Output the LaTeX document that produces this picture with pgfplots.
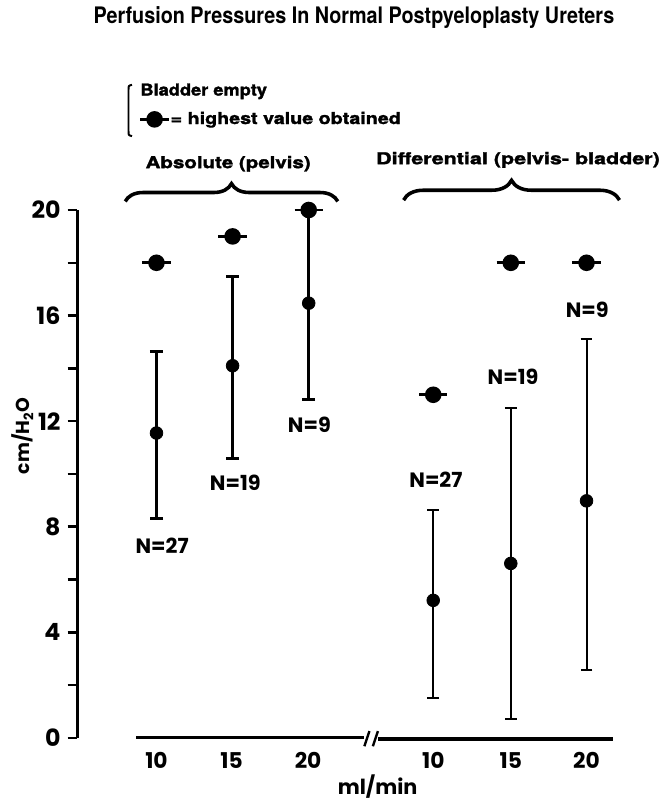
\documentclass[border=0pt]{standalone}
\usepackage{fontspec}
\setmainfont{TeX Gyre Heros}
\newfontfamily\heavy{TeX Gyre Heros}[BoldFeatures={FakeBold=1.6}]
\newfontfamily\pop{Poppins}
\usepackage{pgfplots}
\usepackage{pgfplotstable}
\pgfplotsset{compat=1.18}
\usetikzlibrary{decorations.pathreplacing}

% filled dot with a short bar through it = highest value obtained
\pgfdeclareplotmark{maxdot}{%
  \pgfpathcircle{\pgfpointorigin}{\pgfplotmarksize}%
  \pgfusepathqfill
  \pgfsetlinewidth{1.5pt}%
  \pgfpathmoveto{\pgfpoint{-1.7\pgfplotmarksize}{0pt}}%
  \pgfpathlineto{\pgfpoint{1.7\pgfplotmarksize}{0pt}}%
  \pgfusepathqstroke
}
\pgfplotsset{maxlegend/.style={legend image code/.code={\draw[##1] plot coordinates {(6.8pt,0pt)};}}}

% x: 1,2,3 = absolute 10/15/20 ml/min ; 4.636,5.655,6.65 = differential
\pgfplotstableread{
x      y      ep    em
1      11.55  3.08  3.25
2      14.10  3.39  3.52
3      16.47  3.53  3.65
}\absdata
\pgfplotstableread{
x      y      ep    em
4.636  5.21   3.43  3.71
5.655  6.61   5.90  5.90
6.65   8.98   6.15  6.40
}\diffdata
\pgfplotstableread{
x      y
1      18
2      19
3      20
4.636  13
5.655  18
6.65   18
}\maxdata

\newcommand\numfont{\pop\bfseries}
\newcommand\lblfont{\heavy\bfseries\fontsize{8.3}{10}\selectfont}

\begin{document}
\begin{tikzpicture}
\begin{axis}[
  at={(0,0)}, anchor=origin,
  x=38.5pt, y=13.35pt,
  xmin=-0.039, xmax=7.0, ymin=0, ymax=20,
  clip=false,
  axis x line=none, axis y line=left,
  y axis line style={-, line width=1.3pt},
  ytick={0,4,...,20},
  minor ytick={2,6,...,18},
  tick align=outside,
  major tick length=5pt, minor tick length=5pt,
  tick style={line width=1.3pt, black},
  yticklabel style={font=\numfont\fontsize{12}{14}\selectfont},
  /pgf/number format/assume math mode=true,
  legend style={at={(axis cs:0.7844,23.434)}, anchor=west, draw=none, fill=none,
    inner sep=0pt, font=\lblfont, nodes={inner sep=1pt}},
  legend cell align=left,
]
% absolute (pelvis)
\addplot[only marks, mark=*, mark size=3.2pt, black, forget plot,
  error bars/.cd, y dir=both, y explicit,
  error bar style={line width=1.5pt, black},
  error mark options={rotate=90, mark size=3.3pt, line width=1.5pt, black}]
  table[x=x, y=y, y error plus=ep, y error minus=em] {\absdata};
% differential (pelvis - bladder)
\addplot[only marks, mark=*, mark size=3.2pt, black, forget plot,
  error bars/.cd, y dir=both, y explicit,
  error bar style={line width=1pt, black},
  error mark options={rotate=90, mark size=3pt, line width=1pt, black}]
  table[x=x, y=y, y error plus=ep, y error minus=em] {\diffdata};
% highest values
\addplot[only marks, mark=maxdot, mark size=4.2pt, black, maxlegend]
  table[x=x, y=y] {\maxdata};
\addlegendentry{\scalebox{1.2}[1]{= highest value obtained}}
\end{axis}

% annotations, in pixel units of the 670x805 frame
\begin{scope}[x=0.5pt, y=-0.5pt, shift={(-40.65pt,372.85pt)}]
\path (0,0) rectangle (670,805);
\node at (358,17) {\scalebox{0.87}[1]{\bfseries\fontsize{11.5}{13}\selectfont Perfusion Pressures In Normal Postpyeloplasty Ureters}};
\draw[line width=1pt] (133.5,85) .. controls (130,86) .. (130,90) -- (130,132) .. controls (130,136) .. (133.5,137);
\node[anchor=west, inner sep=0pt] at (141.7,91.7) {\lblfont\scalebox{1.11}[1]{Bladder empty}};
\node at (230.8,165) {\lblfont\scalebox{1.25}[1]{Absolute (pelvis)}};
\node at (524,161) {\lblfont\scalebox{1.31}[1]{Differential (pelvis- bladder)}};
\draw[decorate, decoration={brace, amplitude=9pt}, line width=1.8pt] (126.7,203) -- (341.7,203);
\draw[decorate, decoration={brace, amplitude=10pt}, line width=1.8pt] (408.3,201.7) -- (626.7,201.7);
% broken x axis
\draw[line width=1.7pt] (137.8,745.5) -- (368.6,745.5);
\draw[line width=1.7pt] (382.3,747) -- (620,747);
\draw[line width=1.2pt] (368.6,754.2) -- (373.7,738.8);
\draw[line width=1.2pt] (377.2,754.2) -- (382.3,738.8);
\foreach \px/\t in {158.3/10,234.3/15,311.7/20,438.3/10,516.7/15,593.3/20}
  \node at (\px,768.7) {\numfont\fontsize{11}{13}\selectfont \t};
\node at (382,795) {\numfont\fontsize{10.5}{12}\selectfont ml/min};
\node[rotate=90] at (23,440) {\numfont\fontsize{9.5}{11}\selectfont cm/H\textsubscript{2}O};
% sample sizes
\begin{scope}[every node/.style={font=\numfont\fontsize{10.5}{12}\selectfont}]
\node at (164,551.7) {N=27};
\node at (238,488) {N=19};
\node at (313,429) {N=9};
\node at (441,485) {N=27};
\node at (519,380.7) {N=19};
\node at (594,312.7) {N=9};
\end{scope}
\end{scope}
\end{tikzpicture}
\end{document}
